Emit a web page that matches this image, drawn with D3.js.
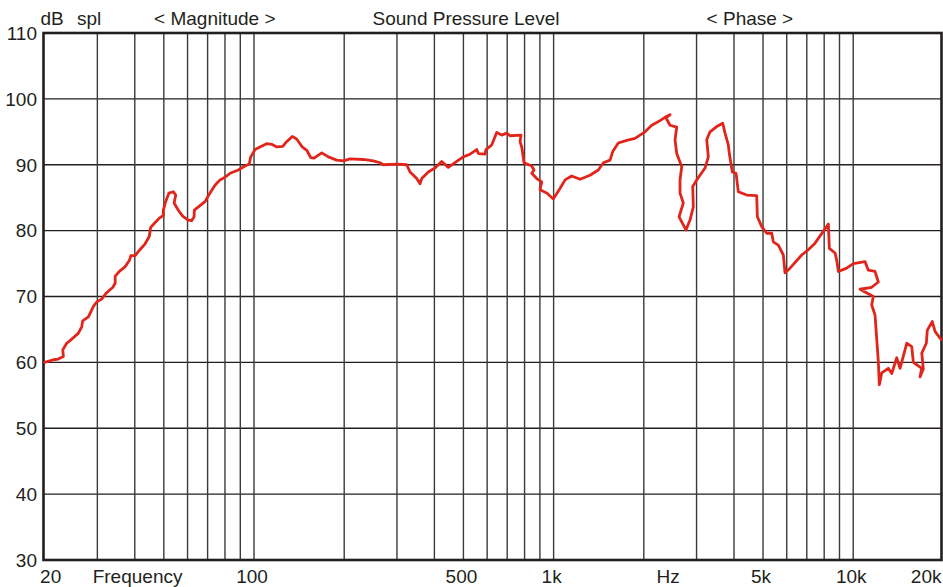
<!DOCTYPE html>
<html>
<head>
<meta charset="utf-8">
<script src="https://cdn.jsdelivr.net/npm/d3@7"></script>
<style>
  html, body { margin: 0; padding: 0; background: #fff; }
  svg { display: block; }
  text { font-family: "Liberation Sans", Arial, sans-serif; fill: #231f20; }
</style>
</head>
<body>
<svg id="chart" width="943" height="587"></svg>
<script>
// ---- data ----
const freq = [20,21.4,22.2,23.1,23.0,23.7,24.6,25.9,26.6,26.8,
  28.0,29.1,29.9,31.0,32.1,33.8,34.4,34.4,35.7,37.1,
  38.4,38.8,40.1,41.6,43.3,44.7,45.2,46.7,48.3,49.8,
  49.8,50.7,52.0,53.8,54.8,54.1,55.9,57.8,60.3,61.9,
  63.1,63.2,65.2,68.6,71.3,74.1,77.0,80.0,83.2,88.6,
  93.3,96.4,97.5,100.8,104.7,110.2,114.6,119.1,124.7,128.5,
  134.2,138.8,144.9,150.0,154.6,158.6,168.3,177.0,188.8,198.7,
  209.2,231.7,250.1,263.4,270.2,299.5,323.4,331.7,349.2,358.2,
  362.8,381.7,401.9,423.1,445.1,474.9,499.5,526.0,553.8,560.7,
  590.2,594.8,621.4,645.8,671.1,697.4,715.3,778.5,772.6,782.6,
  788.7,796.6,845.2,860.3,845.2,878.3,912.7,900.8,948.4,997.7,
  1050,1092,1149,1225,1323,1410,1466,1543,1575,1644,
  1754,1869,2019,2126,2266,2373,2447,2373,2447,2576,
  2543,2576,2677,2642,2642,2710,2622,2766,2853,2926,
  2913,3004,3202,3284,3244,3327,3503,3668,3734,3830,
  3859,3950,4063,4136,4411,4764,4786,4951,5145,5346,
  5412,5623,5844,5921,6154,6731,7081,7458,8260,8324,
  8698,8811,8921,9512,10007,10948,11228,11824,12130,11528,
  10537,11671,11528,11824,12130,12223,12449,13096,13444,13971,
  14331,15090,15683,15875,16937,16715,17140,16937,17539,17673,
  18365,18750,19634];
const spl = [60.0,60.4,60.5,60.9,61.9,62.9,63.5,64.4,65.4,66.3,
  66.9,68.5,69.2,69.6,70.5,71.4,72.0,73.1,73.9,74.5,
  75.5,76.2,76.2,77.1,78.0,79.1,80.5,81.2,81.9,82.3,
  83.1,84.4,85.7,85.9,85.4,84.2,83.1,82.2,81.6,81.5,
  82.1,83.1,83.6,84.4,85.7,86.9,87.7,88.1,88.7,89.2,
  89.8,90.1,91.2,92.3,92.7,93.2,93.1,92.7,92.8,93.5,
  94.3,93.9,92.7,92.2,91.1,91.0,91.8,91.2,90.7,90.6,
  90.9,90.8,90.6,90.3,90.0,90.1,90.0,88.9,87.9,87.1,
  87.9,88.9,89.5,90.5,89.6,90.5,91.2,91.6,92.3,91.7,
  91.6,92.3,93.0,94.9,94.5,94.8,94.4,94.5,93.5,92.7,
  91.7,90.3,89.8,89.2,88.7,87.9,87.4,86.2,85.7,84.8,
  86.4,87.7,88.3,87.8,88.4,89.2,90.3,90.7,92.0,93.3,
  93.7,94.0,95.0,96.0,96.7,97.3,97.6,97.1,96.0,95.7,
  93.8,91.7,89.7,87.7,85.7,84.2,82.1,80.1,81.6,83.6,
  86.7,87.7,89.5,91.2,93.8,95.0,95.8,96.3,94.8,93.0,
  91.7,88.9,88.7,85.9,85.4,85.3,82.1,80.6,79.6,79.6,
  78.3,77.8,76.3,73.6,74.3,76.3,77.1,78.1,81.0,77.3,
  76.6,75.5,73.8,74.3,75.0,75.3,74.0,73.8,72.2,71.4,
  71.1,70.0,68.7,67.2,60.1,56.6,58.4,59.1,58.3,60.7,
  59.1,62.9,62.4,60.0,59.1,57.8,59.0,61.4,62.9,64.9,
  66.2,64.7,63.5];

const yTicks = [30,40,50,60,70,80,90,100,110];
const xGridFreqs = [30,40,50,60,70,80,90,100,200,300,400,500,600,700,800,900,1000,
                    2000,3000,4000,5000,6000,7000,8000,9000,10000];
const xLabels = ["20","Frequency","100","500","1k","Hz","5k","10k","20k"];
const xLabelFreqs = [20,41.5,100,500,1000,2450,5000,10000,20000];
const topLabels = ["< Magnitude >","Sound Pressure Level","< Phase >"];
const topLabelFreqs = [74,510,4520];

// ---- layout ----
const W = 943, H = 587;
const plotL = 43.5, plotR = 941.5, plotT = 33, plotB = 560;
const svg = d3.select("#chart");

const x = d3.scaleLog().domain([20, 20000]).range([44.6, 943.4]);
const y = d3.scaleLinear().domain([30, 110]).range([plotB, plotT]);

const ink = "#231f20";

// horizontal grid
svg.append("g").selectAll("line")
  .data(yTicks.filter(d => d > 30 && d < 110))
  .join("line")
  .attr("x1", plotL).attr("x2", plotR)
  .attr("y1", d => y(d)).attr("y2", d => y(d))
  .attr("stroke", ink).attr("stroke-width", 1.3);

// vertical grid
svg.append("g").selectAll("line")
  .data(xGridFreqs)
  .join("line")
  .attr("x1", d => x(d)).attr("x2", d => x(d))
  .attr("y1", plotT).attr("y2", plotB)
  .attr("stroke", "#3a3a3a").attr("stroke-width", 1.4);

// frame
svg.append("rect")
  .attr("x", plotL).attr("y", plotT)
  .attr("width", plotR - plotL).attr("height", plotB - plotT)
  .attr("fill", "none").attr("stroke", ink).attr("stroke-width", 2.6);

// y labels
svg.append("g").selectAll("text")
  .data(yTicks)
  .join("text")
  .attr("x", 37).attr("y", d => y(d))
  .attr("dy", "0.36em")
  .attr("text-anchor", "end")
  .attr("font-size", 19)
  .text(d => d);

// x labels
const xl = svg.append("g");
xLabels.forEach((lab, i) => {
  const f = xLabelFreqs[i];
  let anchor = "middle", dx = -2;
  if (i === 0) { anchor = "start"; dx = -4.5; }
  if (i === xLabels.length - 1) { anchor = "end"; dx = -0.5; }
  xl.append("text")
    .attr("x", Math.min(x(f), 942) + dx).attr("y", 582.5)
    .attr("text-anchor", anchor)
    .attr("font-size", 19)
    .text(lab);
});

// top labels
svg.append("text").attr("x", 40.5).attr("y", 24.5).attr("font-size", 19).text("dB");
svg.append("text").attr("x", 77).attr("y", 24.5).attr("font-size", 19).text("spl");
svg.append("g").selectAll("text")
  .data(topLabels)
  .join("text")
  .attr("x", (d, i) => x(topLabelFreqs[i]))
  .attr("y", 24.5)
  .attr("text-anchor", "middle")
  .attr("font-size", 19)
  .text(d => d);

// curve
const pts = freq.map((f, i) => ({ f, v: spl[i] }));
const line = d3.line().x(d => x(d.f)).y(d => y(d.v));
svg.append("path")
  .datum(pts)
  .attr("d", line)
  .attr("fill", "none")
  .attr("stroke", "#e1251b")
  .attr("stroke-width", 2.8)
  .attr("stroke-linejoin", "round")
  .attr("stroke-linecap", "round");
</script>
</body>
</html>
